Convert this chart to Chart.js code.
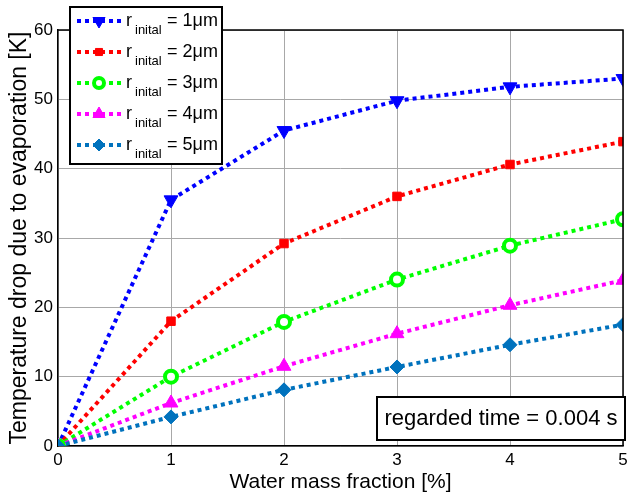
<!DOCTYPE html>
<html>
<head>
<meta charset="utf-8">
<script src="https://cdn.jsdelivr.net/npm/chart.js@4.4.0/dist/chart.umd.min.js"></script>
<style>
  html, body { margin: 0; padding: 0; background: #fff; }
  #wrap { width: 633px; height: 498px; }
</style>
</head>
<body>
<div id="wrap"><canvas id="grafico"></canvas></div>
<script>
// Temperature drop vs water mass fraction
const fracoes = [0, 1, 2, 3, 4, 5];
const raios = ['1μm', '2μm', '3μm', '4μm', '5μm'];
const queda1 = [0, 35.5, 45.5, 49.8, 51.8, 53.0];
const queda2 = [0, 18.0, 29.2, 36.0, 40.6, 43.9];
const queda3 = [0, 10.0, 17.9, 24.0, 28.9, 32.7];
const queda4 = [0, 6.2, 11.5, 16.2, 20.3, 23.9];
const queda5 = [0, 4.2, 8.1, 11.4, 14.6, 17.5];
const yTicks = [0, 10, 20, 30, 40, 50, 60];
const notaTempo = 'regarded time = 0.004 s';

const fonte = '"Liberation Sans", Arial, sans-serif';
const cores = ['#0000FF', '#FF0000', '#00FF00', '#FF00FF', '#0072BD'];
const marcas = [
  { pointStyle: 'triangle', rotation: 180, radius: 8, bg: '#0000FF', bw: 1 },
  { pointStyle: 'rect', rotation: 0, radius: 6, bg: '#FF0000', bw: 1 },
  { pointStyle: 'circle', rotation: 0, radius: 6, bg: '#FFFFFF', bw: 4 },
  { pointStyle: 'triangle', rotation: 0, radius: 8, bg: '#FF00FF', bw: 1 },
  { pointStyle: 'rectRot', rotation: 0, radius: 7, bg: '#0072BD', bw: 1 }
];
const series = [queda1, queda2, queda3, queda4, queda5];

const datasets = series.map(function(s, i) {
  return {
    label: 'r inital = ' + raios[i],
    data: s.map(function(v, j) { return { x: fracoes[j], y: v }; }),
    borderColor: cores[i],
    backgroundColor: cores[i],
    borderWidth: 4,
    borderDash: [4, 4],
    pointStyle: marcas[i].pointStyle,
    rotation: marcas[i].rotation,
    pointRadius: marcas[i].radius,
    pointBackgroundColor: marcas[i].bg,
    pointBorderColor: cores[i],
    pointBorderWidth: marcas[i].bw,
    tension: 0
  };
}).reverse();

// desenha um marcador da legenda
function marcador(ctx, i, x, y) {
  ctx.fillStyle = marcas[i].bg;
  ctx.strokeStyle = cores[i];
  ctx.lineWidth = marcas[i].bw;
  Chart.helpers.drawPoint(ctx, {
    pointStyle: marcas[i].pointStyle,
    rotation: marcas[i].rotation,
    radius: marcas[i].radius - 1,
    borderWidth: marcas[i].bw
  }, x, y);
}

// legenda + caixa de texto + moldura
const extras = {
  id: 'extras',
  afterDraw: function(chart) {
    const ctx = chart.ctx;
    const a = chart.chartArea;
    ctx.save();
    // top and right border
    ctx.strokeStyle = '#000';
    ctx.lineWidth = 1.5;
    ctx.beginPath();
    ctx.moveTo(a.left, a.top);
    ctx.lineTo(a.right, a.top);
    ctx.lineTo(a.right, a.bottom);
    ctx.stroke();

    // text box
    ctx.fillStyle = '#fff';
    ctx.fillRect(377, 397, 248, 43);
    ctx.lineWidth = 2;
    ctx.strokeRect(377, 397, 248, 43);
    ctx.fillStyle = '#000';
    ctx.font = '22px ' + fonte;
    ctx.textAlign = 'center';
    ctx.textBaseline = 'middle';
    ctx.fillText(notaTempo, 501, 419);

    // legend
    ctx.fillStyle = '#fff';
    ctx.fillRect(70, 7, 152, 157);
    ctx.lineWidth = 2;
    ctx.strokeStyle = '#000';
    ctx.strokeRect(70, 7, 152, 157);
    raios.forEach(function(r, i) {
      const y = 21 + i * 31;
      ctx.strokeStyle = cores[i];
      ctx.lineWidth = 4;
      ctx.setLineDash([4, 4]);
      ctx.beginPath();
      ctx.moveTo(77, y);
      ctx.lineTo(121, y);
      ctx.stroke();
      ctx.setLineDash([]);
      marcador(ctx, i, 99, y);
      ctx.fillStyle = '#000';
      ctx.textAlign = 'left';
      ctx.textBaseline = 'middle';
      ctx.font = '18px ' + fonte;
      ctx.fillText('r', 126, y);
      ctx.font = '13px ' + fonte;
      ctx.fillText('inital', 135, y + 9);
      ctx.font = '18px ' + fonte;
      ctx.fillText('= ' + r, 167, y);
    });
    ctx.restore();
  }
};

const config = {
  type: 'line',
  data: { datasets: datasets },
  options: {
    responsive: true,
    maintainAspectRatio: false,
    animation: false,
    layout: { padding: { top: 30, right: 3, left: 0, bottom: 0 } },
    plugins: {
      legend: { display: false },
      tooltip: { enabled: false }
    },
    scales: {
      x: {
        type: 'linear',
        min: 0,
        max: 5,
        afterFit: function(s) { s.height = 52; },
        afterBuildTicks: function(s) { s.ticks = fracoes.map(function(v) { return { value: v }; }); },
        grid: { color: '#a8a8a8', lineWidth: 1, drawTicks: false },
        border: { color: '#000', width: 1.5 },
        ticks: {
          color: '#000',
          padding: 4,
          font: { family: fonte, size: 17 }
        },
        title: {
          display: true,
          text: 'Water mass fraction [%]',
          color: '#000',
          padding: { top: 0, bottom: 3 },
          font: { family: fonte, size: 21 }
        }
      },
      y: {
        min: 0,
        max: 60,
        afterFit: function(s) { s.width = 58; },
        afterBuildTicks: function(s) { s.ticks = yTicks.map(function(v) { return { value: v }; }); },
        grid: { color: '#a8a8a8', lineWidth: 1, drawTicks: false },
        border: { color: '#000', width: 1.5 },
        ticks: {
          color: '#000',
          padding: 5,
          font: { family: fonte, size: 17 }
        },
        title: {
          display: true,
          text: 'Temperature drop due to evaporation [K]',
          color: '#000',
          padding: { top: 6, bottom: 2 },
          font: { family: fonte, size: 23 }
        }
      }
    }
  },
  plugins: [extras]
};

const grafico = new Chart(document.getElementById('grafico'), config);
</script>
</body>
</html>
